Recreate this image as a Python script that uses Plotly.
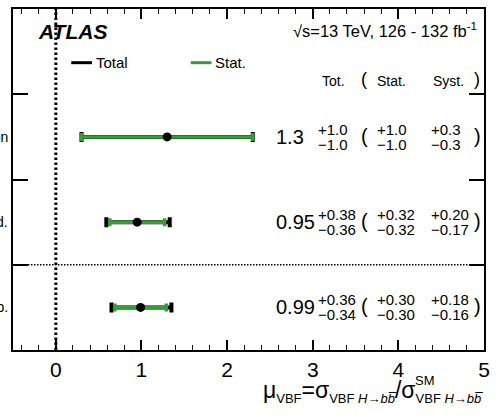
import plotly.graph_objects as go

# Signal-strength measurements per channel
categories = ["Photon", "Had.", "Comb."]
row_pos = [3, 2, 1]
mu = [1.3, 0.95, 0.99]
tot_up = [1.0, 0.38, 0.36]
tot_dn = [1.0, 0.36, 0.34]
stat_up = [1.0, 0.32, 0.30]
stat_dn = [1.0, 0.32, 0.30]
syst_up = [0.3, 0.20, 0.18]
syst_dn = [0.3, 0.17, 0.16]
decimals = [1, 2, 2]

FONT = "Liberation Sans, Arial, Helvetica, sans-serif"
GREEN = "#379c37"
W, H = 497, 418
ML, MR, MT, MB = 13, 7, 7, 68
PW, PH = W - ML - MR, H - MT - MB


def px_x(p):
    return (p - ML) / PW


def px_y(p):
    return (H - MB - p) / PH


fig = go.Figure()

# total uncertainty (black) drawn first, statistical (green) on top
fig.add_trace(go.Scatter(
    x=mu, y=row_pos, mode="markers",
    marker=dict(size=1, color="black"),
    error_x=dict(type="data", symmetric=False, array=tot_up, arrayminus=tot_dn,
                 color="black", thickness=4, width=5),
    showlegend=False, hoverinfo="skip",
))
fig.add_trace(go.Scatter(
    x=mu, y=row_pos, mode="markers",
    marker=dict(size=9, color="black"),
    error_x=dict(type="data", symmetric=False, array=stat_up, arrayminus=stat_dn,
                 color=GREEN, thickness=3.5, width=4),
    showlegend=False, hoverinfo="skip",
))

shapes = [
    # SM reference at mu = 0
    dict(type="line", xref="x", yref="paper", x0=0, x1=0, y0=0, y1=1,
         line=dict(color="black", width=3, dash="2.5px,2.5px"), layer="below"),
    # separator above the combined result
    dict(type="line", xref="paper", yref="y", x0=0, x1=1, y0=1.5, y1=1.5,
         line=dict(color="black", width=1.5, dash="1.5px,1.5px"), layer="below"),
    # legend samples
    dict(type="line", xref="paper", yref="paper", x0=px_x(72), x1=px_x(93),
         y0=px_y(61), y1=px_y(61), line=dict(color="black", width=3)),
    dict(type="line", xref="paper", yref="paper", x0=px_x(193), x1=px_x(214),
         y0=px_y(61), y1=px_y(61), line=dict(color=GREEN, width=3)),
]

ann = []


def text(x, y, s, size, xanchor="left", xref="paper", yref="paper", yshift=0, **kw):
    ann.append(dict(x=x, y=y, xref=xref, yref=yref, text=s, showarrow=False,
                    xanchor=xanchor, yanchor="middle", yshift=yshift,
                    font=dict(family=FONT, size=size, color="black"),
                    borderpad=0, **kw))


text(px_x(37), px_y(30), "<b><i>ATLAS</i></b>", 21)
text(px_x(484), px_y(28), "√s=13 TeV, 126 - 132 fb<sup>-1</sup>", 16.5, xanchor="right")
text(px_x(96), px_y(61), "Total", 15)
text(px_x(217), px_y(61), "Stat.", 15)

# column header
text(px_x(325), px_y(79), "Tot.", 14)
text(px_x(364), px_y(77), "(", 18)
text(px_x(381), px_y(79), "Stat.", 14)
text(px_x(437), px_y(79), "Syst.", 14)
text(px_x(479), px_y(77), ")", 18)


def fmt(v, d, sign):
    return f"{sign}{v:.{d}f}"


MINUS = "\u2212"
for i, cat in enumerate(categories):
    y = row_pos[i]
    d = decimals[i]
    text(px_x(9), y, cat, 14, xanchor="right", yref="y")
    text(px_x(278), y, f"{mu[i]:.{d}f}", 20, yref="y")
    text(px_x(321), y, fmt(tot_up[i], d, "+"), 15, yref="y", yshift=7.5)
    text(px_x(321), y, fmt(tot_dn[i], d, MINUS), 15, yref="y", yshift=-7.5)
    text(px_x(364), y, "(", 20, yref="y", yshift=1)
    text(px_x(381), y, fmt(stat_up[i], d, "+"), 15, yref="y", yshift=7.5)
    text(px_x(381), y, fmt(stat_dn[i], d, MINUS), 15, yref="y", yshift=-7.5)
    text(px_x(435), y, fmt(syst_up[i], d, "+"), 15, yref="y", yshift=7.5)
    text(px_x(435), y, fmt(syst_dn[i], d, MINUS), 15, yref="y", yshift=-7.5)
    text(px_x(479), y, ")", 20, yref="y", yshift=1)

# x-axis title
sub = '<sub><span style="font-size:13px">{}</span></sub>'
bb = "<i>H</i>→<i>b</i><i>b\u0305</i>"
title = ("μ" + sub.format("VBF") + "=σ" + sub.format("VBF " + bb)
         + "/σ" + sub.format("VBF " + bb))
text(1.0, px_y(392), title, 23, xanchor="right")
text(px_x(419), px_y(381), "SM", 13)

fig.update_layout(
    width=W, height=H,
    margin=dict(l=ML, r=MR, t=MT, b=MB),
    paper_bgcolor="white", plot_bgcolor="white",
    shapes=shapes, annotations=ann,
    xaxis=dict(
        range=[-0.5, 5], tickmode="linear", tick0=0, dtick=1,
        ticks="inside", ticklen=10, tickwidth=1.5, tickcolor="black",
        minor=dict(tickmode="linear", tick0=0, dtick=0.2, ticks="inside",
                   ticklen=5, tickwidth=1.2, tickcolor="black", showgrid=False),
        showline=True, linecolor="black", linewidth=1.5, mirror="allticks",
        showgrid=False, zeroline=False,
        tickfont=dict(family=FONT, size=21, color="black"),
    ),
    yaxis=dict(
        range=[0.5, 4.5], tickvals=[1.5, 2.5, 3.5], showticklabels=False,
        ticks="inside", ticklen=15, tickwidth=1.5, tickcolor="black",
        showline=True, linecolor="black", linewidth=1.5, mirror="allticks",
        showgrid=False, zeroline=False,
    ),
)

fig.write_html("out.html")
